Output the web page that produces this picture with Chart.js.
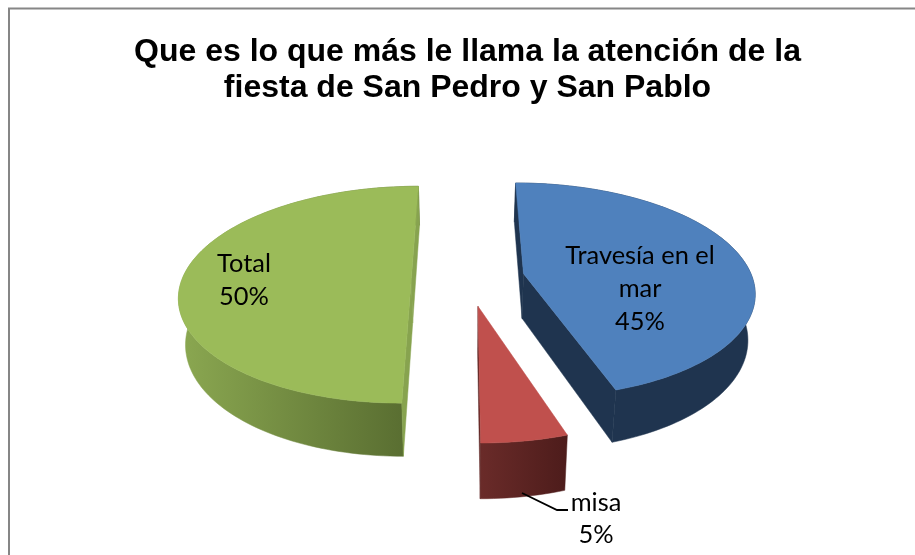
<!DOCTYPE html>
<html>
<head>
<meta charset="utf-8">
<style>html,body{margin:0;padding:0;background:#fff;overflow:hidden}canvas{display:block}</style>
<script src="https://cdn.jsdelivr.net/npm/chart.js@4/dist/chart.umd.js"></script>
</head>
<body>
<canvas id="c" width="915" height="555"></canvas>
<script>
const titleLines = ['Que es lo que más le llama la atención de la', 'fiesta de San Pedro y San Pablo'];
const categories = ['Travesía en el mar', 'misa', 'Total'];
const values = [45, 5, 50];
const labelLines = [['Travesía en el', 'mar', '45%'], ['misa', '5%'], ['Total', '50%']];
const topColors = ['#4f81bd', '#c0504d', '#9bbb59'];
const cutColors = ['#1f344f', '#602725', '#87a34f'];
const rimColors = [['#1f344f', '#1f344f'], ['#6a2b29', '#4d1c1b'], ['#8ba851', '#566a2f']];
const explode = [0.265, 0.26, 0.23];
const explodeNudgeX = [0, 0.018, 0];

// presentation settings
const cam = { dx: -3.5, dy: 0, a: 229 / 168, d: 688 / 168, k: 0.154, depth: 45 / 168, shrink: 0.975 };
const labelAnchors = [[640, 256, 33], [596, 503, 32], [244, 264, 33]];
const leader = [[522, 493], [557, 510], [568, 510]];

function projector(el, idx) {
  const R = el.outerRadius, o = el.options.offset || 0;
  const mid = (el.startAngle + el.endAngle) / 2;
  const ox = o * Math.cos(mid) + explodeNudgeX[idx], oy = -o * Math.sin(mid);
  const cx = el.x + cam.dx, cy = el.y + cam.dy;
  return function (angle, r, lower) {
    const X = ox + r * Math.cos(angle), Y = oy - r * Math.sin(angle);
    const w = 1 + cam.k * Y;
    let sx = cx + cam.a * R * X / w;
    let sy = cy + cam.d * R * (1 / w - 1);
    if (lower) { sx = cx + (sx - cx) * cam.shrink; sy += cam.depth * R / w; }
    return [sx, sy];
  };
}

function poly(ctx, pts, fill) {
  ctx.beginPath();
  pts.forEach((p, i) => i ? ctx.lineTo(p[0], p[1]) : ctx.moveTo(p[0], p[1]));
  ctx.closePath();
  ctx.fillStyle = fill;
  ctx.fill();
  ctx.strokeStyle = fill;
  ctx.lineWidth = 0.5;
  ctx.stroke();
}

function signedArea(pts) {
  let sum = 0;
  pts.forEach((p, i) => {
    const q = pts[(i + 1) % pts.length];
    sum += p[0] * q[1] - q[0] * p[1];
  });
  return sum;
}

Chart.ArcElement.prototype.draw = function (ctx) {
  const idx = this.$context ? this.$context.dataIndex : 0;
  const p = projector(this, idx);
  const s = this.startAngle, e = this.endAngle;
  const steps = Math.max(8, Math.round((e - s) * 40));
  const topArc = [], lowArc = [];
  for (let i = 0; i <= steps; i++) {
    const a = s + (e - s) * i / steps;
    topArc.push(p(a, 1, false));
    lowArc.push(p(a, 1, true));
  }
  const apex = p(s, 0, false), apexLow = p(s, 0, true);
  ctx.save();
  // outer rim
  const xs = topArc.concat(lowArc).map(q => q[0]);
  const g = ctx.createLinearGradient(Math.min(...xs), 0, Math.max(...xs), 0);
  g.addColorStop(0, rimColors[idx][0]);
  g.addColorStop(1, rimColors[idx][1]);
  poly(ctx, topArc.concat(lowArc.slice().reverse()), g);
  // straight cut faces, only those that face the viewer
  const startFace = [apex, topArc[0], lowArc[0], apexLow];
  const endFace = [topArc[steps], apex, apexLow, lowArc[steps]];
  [startFace, endFace].forEach(face => {
    if (signedArea(face) < 0) poly(ctx, face, cutColors[idx]);
  });
  // top face
  poly(ctx, [apex].concat(topArc), this.options.backgroundColor);
  ctx.restore();
};

const framePlugin = {
  id: 'frame',
  beforeDraw(chart) {
    const ctx = chart.ctx;
    ctx.save();
    ctx.strokeStyle = '#868686';
    ctx.lineWidth = 2;
    ctx.strokeRect(9, 8.5, 1200, 1200);
    ctx.restore();
  }
};

const labelPlugin = {
  id: 'sliceLabels',
  afterDatasetsDraw(chart) {
    const ctx = chart.ctx;
    ctx.save();
    ctx.strokeStyle = '#000';
    ctx.lineWidth = 1.8;
    ctx.beginPath();
    leader.forEach((q, i) => i ? ctx.lineTo(q[0], q[1]) : ctx.moveTo(q[0], q[1]));
    ctx.stroke();
    ctx.fillStyle = '#000';
    ctx.font = '25.4px Lato';
    ctx.textAlign = 'center';
    ctx.textBaseline = 'middle';
    labelLines.forEach((lines, i) => {
      const [x, y, lh] = labelAnchors[i];
      lines.forEach((t, j) => ctx.fillText(t, x, y + j * lh));
    });
    ctx.restore();
  }
};

new Chart(document.getElementById('c'), {
  type: 'pie',
  data: {
    labels: categories,
    datasets: [{ data: values, backgroundColor: topColors, offset: explode, borderWidth: 0 }]
  },
  options: {
    responsive: false,
    animation: false,
    events: [],
    layout: { padding: { left: 20, right: 0, top: 0, bottom: 109 } },
    plugins: {
      legend: { display: false },
      tooltip: { enabled: false },
      title: {
        display: true,
        text: titleLines,
        color: '#000',
        font: { family: '"Liberation Sans"', size: 32, weight: 'bold', lineHeight: 1.125 },
        padding: { top: 34, bottom: 4 }
      }
    }
  },
  plugins: [framePlugin, labelPlugin]
});
</script>
</body>
</html>
